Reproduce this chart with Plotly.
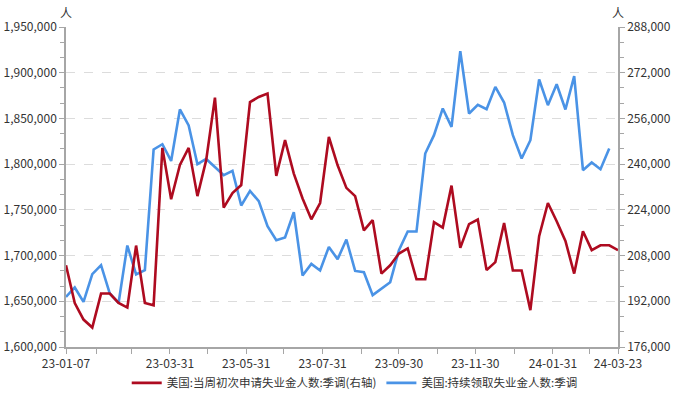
import pandas as pd
import plotly.graph_objects as go

# ---------------- data ----------------
start_date = "2023-01-07"
end_date = "2024-03-23"

initial_claims = [  # 美国:当周初次申请失业金人数:季调 (right axis)
    204600, 191400, 185600, 182800, 194700, 194700, 191400, 189800, 211500, 191400,
    190600, 245700, 227700, 239700, 245700, 228800, 241400, 263300, 224800, 229900,
    232700, 261700, 263500, 264700, 235900, 248400, 236700, 228000, 220700, 226400,
    249500, 239600, 231700, 228800, 216800, 220400, 201700, 204600, 208700, 210500,
    199700, 199700, 219700, 217800, 232500, 210700, 219000, 220600, 202900, 205700,
    219400, 202800, 202800, 188900, 214800, 226400, 220000, 213100, 201700, 216500,
    209900, 211600, 211600, 209900,
]

continuing_claims = [  # 美国:持续领取失业金人数:季调 (left axis)
    1654800, 1665100, 1649300, 1679600, 1689500, 1658500, 1648200, 1711000, 1679300, 1684000,
    1816000, 1821800, 1803500, 1859800, 1842300, 1799900, 1805700, 1797000, 1787900, 1792600,
    1754800, 1770700, 1759500, 1732100, 1716800, 1719800, 1747400, 1678200, 1690900, 1683700,
    1709500, 1696000, 1717600, 1683200, 1681800, 1656700, 1664000, 1670900, 1705900, 1726300,
    1726300, 1811600, 1831700, 1860900, 1840700, 1923500, 1855400, 1864800, 1860100, 1884500,
    1867400, 1831700, 1806200, 1826200, 1892600, 1864500, 1887400, 1859800, 1896200, 1793400,
    1801800, 1794500, 1817100,
]

series_names = ["美国:当周初次申请失业金人数:季调(右轴)", "美国:持续领取失业金人数:季调"]
unit_label = "人"

tick_dates = ["2023-01-07", "2023-01-31", "2023-02-28", "2023-03-31", "2023-04-30",
              "2023-05-31", "2023-06-30", "2023-07-31", "2023-08-31", "2023-09-30",
              "2023-10-31", "2023-11-30", "2023-12-31", "2024-01-31", "2024-02-29",
              "2024-03-23"]
tick_labels = ["23-01-07", "", "", "23-03-31", "", "23-05-31", "", "23-07-31", "",
               "23-09-30", "", "23-11-30", "", "24-01-31", "", "24-03-23"]

left_range = [1600000, 1950000]
right_range = [176000, 288000]

# ---------------- figure ----------------
dates_red = pd.date_range(start_date, periods=len(initial_claims), freq="7D")
dates_blue = pd.date_range(start_date, periods=len(continuing_claims), freq="7D")

RED = "#AE0B20"
BLUE = "#4A93E6"
AXIS = "#A6A6A6"
TXT = "#333333"
FONT = "Noto Sans CJK SC, Noto Sans, sans-serif"

fig = go.Figure()
fig.add_trace(go.Scatter(x=dates_red, y=initial_claims, name=series_names[0],
                         mode="lines", line=dict(color=RED, width=2.6), yaxis="y2"))
fig.add_trace(go.Scatter(x=dates_blue, y=continuing_claims, name=series_names[1],
                         mode="lines", line=dict(color=BLUE, width=2.6), yaxis="y"))

fig.update_layout(
    width=688, height=397,
    margin=dict(l=66, r=70, t=27, b=50, autoexpand=False),
    paper_bgcolor="white", plot_bgcolor="white",
    font=dict(family=FONT, size=12, color=TXT),
    showlegend=True,
    legend=dict(orientation="h", x=0.11, xanchor="left", y=-0.112, yanchor="middle",
                font=dict(size=11.5, color=TXT), itemwidth=30, tracegroupgap=0,
                bgcolor="rgba(0,0,0,0)"),
    xaxis=dict(
        type="date", range=[start_date, end_date], automargin=False,
        tickmode="array", tickvals=tick_dates, ticktext=tick_labels,
        ticks="outside", ticklen=5, tickcolor=AXIS, tickwidth=1,
        showline=True, linecolor=AXIS, linewidth=1.5,
        showgrid=False, zeroline=False,
        tickfont=dict(size=12, color=TXT),
    ),
    yaxis=dict(
        range=left_range, tickmode="linear", tick0=1600000, dtick=50000, automargin=False,
        tickformat=",d", ticks="outside", ticklen=5, tickcolor=AXIS,
        showline=True, linecolor=AXIS, linewidth=1.5,
        showgrid=True, gridcolor="#DCDCDC", griddash="dash", gridwidth=1,
        zeroline=False, tickfont=dict(size=12, color=TXT),
        minor=dict(dtick=50000 / 3, tick0=1600000, ticks="outside", ticklen=4,
                   tickcolor=AXIS, showgrid=False),
    ),
    yaxis2=dict(
        range=right_range, tickmode="linear", tick0=176000, dtick=16000, automargin=False,
        tickformat=",d", ticks="outside", ticklen=5, tickcolor=AXIS,
        showline=True, linecolor=AXIS, linewidth=1.5,
        overlaying="y", side="right", showgrid=False, zeroline=False,
        tickfont=dict(size=12, color=TXT),
        minor=dict(dtick=16000 / 3, tick0=176000, ticks="outside", ticklen=4,
                   tickcolor=AXIS, showgrid=False),
    ),
    annotations=[
        dict(text=unit_label, xref="paper", yref="paper", x=0, y=1, yshift=15,
             showarrow=False, font=dict(size=12, color=TXT), xanchor="center", yanchor="middle"),
        dict(text=unit_label, xref="paper", yref="paper", x=1, y=1, yshift=15,
             showarrow=False, font=dict(size=12, color=TXT), xanchor="center", yanchor="middle"),
    ],
)

fig.write_html("out.html", config=dict(displayModeBar=False),
               post_script="document.body.style.margin='0';")
